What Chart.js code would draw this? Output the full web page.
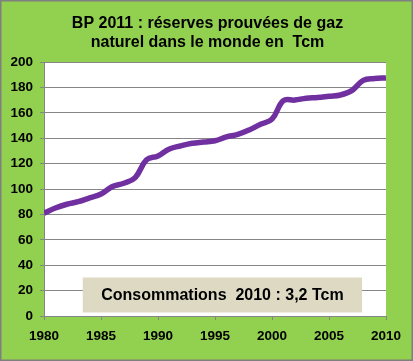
<!DOCTYPE html>
<html>
<head>
<meta charset="utf-8">
<script src="https://cdn.jsdelivr.net/npm/chart.js@4"></script>
<style>
  body { margin: 0; background: #92D050; }
  #wrap { width: 413px; height: 361px; }
</style>
</head>
<body>
<div id="wrap"><canvas id="myChart"></canvas></div>
<script>
// values (Tcm)
const years    = [1980, 1981, 1982, 1983, 1984, 1985, 1986, 1987, 1988, 1989,
                  1990, 1991, 1992, 1993, 1994, 1995, 1996, 1997, 1998, 1999,
                  2000, 2001, 2002, 2003, 2004, 2005, 2006, 2007, 2008, 2009, 2010];
const reserves = [81, 85, 88, 90, 93, 96, 102, 104.5, 109, 123,
                  126, 131.5, 134, 136, 137, 138, 141, 143, 146.5, 151,
                  155, 169.5, 170, 171.5, 172, 173, 174, 177.5, 185.5, 187, 187.5];
const yTicks   = [0, 20, 40, 60, 80, 100, 120, 140, 160, 180, 200];
const xTicks   = [1980, 1985, 1990, 1995, 2000, 2005, 2010];
const titleLines = ['BP 2011 : réserves prouvées de gaz', 'naturel dans le monde en  Tcm'];
const noteText = 'Consommations  2010 : 3,2 Tcm';

const FONT = '"Liberation Sans", Arial, sans-serif';

// green frame + white plot area
const background = {
  id: 'background',
  beforeDraw: (chart) => {
    const ctx = chart.ctx;
    const a = chart.chartArea;
    ctx.save();
    ctx.fillStyle = '#92D050';
    ctx.fillRect(0, 0, chart.width, chart.height);
    ctx.fillStyle = '#ffffff';
    ctx.fillRect(a.left, a.top, a.right - a.left, a.bottom - a.top);
    ctx.strokeStyle = '#7f7f7f';
    ctx.lineWidth = 1.5;
    ctx.strokeRect(0.75, 0.75, chart.width - 1.5, chart.height - 1.5);
    ctx.restore();
  }
};

// title centred on the whole picture, not on the plot
const topTitle = {
  id: 'topTitle',
  afterDraw: (chart) => {
    const ctx = chart.ctx;
    ctx.save();
    ctx.fillStyle = '#000000';
    ctx.font = 'bold 16px ' + FONT;
    ctx.textAlign = 'center';
    ctx.textBaseline = 'middle';
    titleLines.forEach((line, i) => ctx.fillText(line, chart.width / 2 + 1, 24 + i * 19));
    ctx.restore();
  }
};

// the "Consommations" box, placed in data space
const note = {
  id: 'note',
  afterDraw: (chart) => {
    const ctx = chart.ctx;
    const x = chart.scales.x, y = chart.scales.y;
    const l = x.getPixelForValue(1983.4), r = x.getPixelForValue(2007.9);
    const t = y.getPixelForValue(30.3), b = y.getPixelForValue(2.8);
    ctx.save();
    ctx.fillStyle = '#DDD9C3';
    ctx.fillRect(l, t, r - l, b - t);
    ctx.fillStyle = '#000000';
    ctx.font = 'bold 16px ' + FONT;
    ctx.textAlign = 'center';
    ctx.textBaseline = 'middle';
    ctx.fillText(noteText, (l + r) / 2, (t + b) / 2 + 1);
    ctx.restore();
  }
};

const ctx = document.getElementById('myChart').getContext('2d');
const chart = new Chart(ctx, {
  type: 'line',
  data: {
    datasets: [{
      data: years.map((yr, i) => ({ x: yr, y: reserves[i] })),
      borderColor: '#7030A0',
      borderWidth: 5.5,
      pointRadius: 0,
      tension: 0.4,
      fill: false
    }]
  },
  options: {
    responsive: true,
    maintainAspectRatio: false,
    animation: false,
    layout: { padding: { left: 0, right: 27, top: 62, bottom: 0 } },
    plugins: {
      legend: { display: false },
      tooltip: { enabled: false },
      title: { display: false }
    },
    scales: {
      x: {
        type: 'linear',
        min: 1980,
        max: 2010,
        afterBuildTicks: (s) => { s.ticks = xTicks.map(v => ({ value: v })); },
        afterFit: (s) => { s.height = 45; },
        grid: { drawOnChartArea: false, drawTicks: true, tickLength: 4, color: '#868686' },
        border: { display: true, color: '#868686' },
        ticks: {
          color: '#000000',
          padding: 8,
          maxRotation: 0,
          font: { family: FONT, size: 13.5, weight: 'bold' },
          callback: (v) => String(v)
        }
      },
      y: {
        min: 0,
        max: 200,
        afterBuildTicks: (s) => { s.ticks = yTicks.map(v => ({ value: v })); },
        afterFit: (s) => { s.width = 44; },
        grid: { color: '#868686', tickLength: 4, drawTicks: true },
        border: { display: true, color: '#868686' },
        ticks: {
          color: '#000000',
          padding: 7,
          font: { family: FONT, size: 13.5, weight: 'bold' }
        }
      }
    }
  },
  plugins: [background, topTitle, note]
});
</script>
</body>
</html>
